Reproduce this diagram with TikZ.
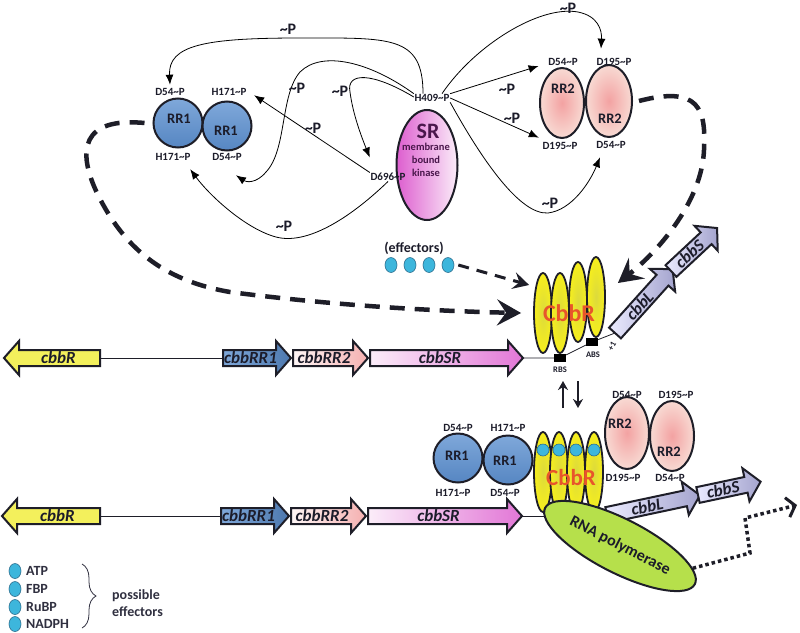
\documentclass[tikz,border=0pt]{standalone}
\usepackage{fontspec}
\setmainfont{Carlito}
\usetikzlibrary{arrows.meta,shapes.geometric,decorations.pathreplacing}
\definecolor{olc}{HTML}{1E1E28}
\definecolor{txt}{HTML}{1C1C2A}
\definecolor{legtxt}{HTML}{303040}
\definecolor{rrone}{HTML}{5686C2}
\definecolor{rronelt}{HTML}{7FA8DA}
\definecolor{rrtwo}{HTML}{F8DAD3}
\definecolor{rrtwoin}{HTML}{F3A2A2}
\definecolor{srdark}{HTML}{DD5ECF}
\definecolor{srlight}{HTML}{FBEDF9}
\definecolor{srtxt}{HTML}{4A174C}
\definecolor{cbbyel}{HTML}{F7EF1C}
\definecolor{cbbyelin}{HTML}{DCDA3C}
\definecolor{cbbred}{HTML}{E8552B}
\definecolor{effblue}{HTML}{3DB6DC}
\definecolor{effline}{HTML}{2C6E8E}
\definecolor{rnagreen}{HTML}{B6E04B}
\definecolor{geneyel}{HTML}{F3F05C}
\newcommand\Ptil{\textasciitilde P}
\newcommand\GeneArrow[6]{%
\begin{scope}[shift={(#2)},rotate=#3]
\pgfmathsetmacro\gbase{#4-15}
\pgfmathsetmacro\grot{mod(#3+90,180)-90}
\path[genebox,#5] (0,-8) -- (\gbase,-8) -- (\gbase,-17) -- (#4,0) -- (\gbase,17) -- (\gbase,8) -- (0,8) -- cycle;
\node[gname,rotate=\grot] (#1) at (\gbase/2+1,0) {#6};
\coordinate (#1-w) at (0,0);
\coordinate (#1-e) at (#4,0);
\end{scope}}
\begin{document}
\begin{tikzpicture}[x=1pt,y=-1pt,
 lab/.style={font=\bfseries\fontsize{11}{12}\selectfont, text=txt, inner sep=0.5pt},
 plab/.style={font=\bfseries\fontsize{16}{18}\selectfont, text=txt, inner sep=0.5pt},
 rrtxt/.style={font=\bfseries\fontsize{14.5}{16}\selectfont, text=txt, inner sep=0pt},
 gname/.style={font=\bfseries\itshape\fontsize{17}{18}\selectfont, text=txt, inner sep=0pt},
 leg/.style={font=\bfseries\fontsize{14}{17}\selectfont, text=legtxt, inner sep=0pt, anchor=west},
 small/.style={font=\bfseries\fontsize{8.5}{10}\selectfont, text=txt, inner sep=0pt},
 rronenode/.style={circle, draw=olc, line width=2pt, top color=rronelt, bottom color=rrone, minimum size=49pt, inner sep=0pt},
 rrtwonode/.style={ellipse, draw=olc, line width=2pt, inner color=rrtwoin, outer color=rrtwo, minimum width=44pt, minimum height=70pt, inner sep=0pt},
 cbbnode/.style={ellipse, draw=olc, line width=1.8pt, inner color=cbbyelin, outer color=cbbyel, minimum width=18pt, minimum height=80pt, inner sep=0pt},
 effnode/.style={ellipse, draw=effline, line width=0.6pt, fill=effblue, minimum width=12pt, minimum height=15pt, inner sep=0pt},
 dotnode/.style={circle, draw=effline, line width=0.6pt, fill=effblue, minimum size=12pt, inner sep=0pt},
 genebox/.style={draw=olc, line width=2pt, line join=miter},
 gR/.style={fill=geneyel},
 gRRa/.style={left color=rronelt, right color=rrone!90!black},
 gRRb/.style={left color=white!90!rrtwoin, right color=rrtwoin!85!white},
 gSR/.style={left color=srlight, right color=srdark!85!white},
 gLS/.style={left color=white!92!blue, right color=blue!30!gray!55!white},
 thinarr/.style={draw=black, line width=0.8pt, -{Latex[length=10pt,width=8pt]}},
 bigdash/.style={draw=olc, line width=4.5pt, dash pattern=on 15pt off 10pt, -{Stealth[length=24pt,width=26pt,inset=9pt]}},
 meddash/.style={draw=olc, line width=3pt, dash pattern=on 11pt off 8pt, -{Stealth[length=16pt,width=17pt,inset=6pt]}},
 updown/.style={draw=olc, line width=2.5pt, -{Stealth[length=9pt,width=10pt]}},
 dotarr/.style={draw=olc, line width=3.5pt, dash pattern=on 3.5pt off 3pt, -{Straight Barb[length=8pt,width=20pt,line width=3pt]}}
]
\useasboundingbox (0,0) rectangle (800,632);
\fill[white] (0,0) rectangle (800,632);

% ---------- top: RR1 pair ----------
\node[rronenode] (rr1a) at (178,123) {};
\node[rronenode] (rr1b) at (227,126) {};
\node[rrtxt] (rr1aT) at (179,119) {RR1};
\node[rrtxt] (rr1bT) at (226,131) {RR1};
\node[lab] (t1) at (170,92) {D54\Ptil};
\node[lab] (t2) at (229,92) {H171\Ptil};
\node[lab] (t3) at (173,157) {H171\Ptil};
\node[lab] (t4) at (227,157) {D54\Ptil};

% ---------- SR ----------
\node[ellipse, draw=olc, line width=2pt, left color=srdark, right color=srlight, minimum width=61pt, minimum height=110pt, inner sep=0pt] (sr) at (427,165) {};
\node[font=\bfseries\fontsize{22}{24}\selectfont, text=srtxt, inner sep=0pt] (srT) at (428,131) {SR};
\node[font=\bfseries\fontsize{10.5}{13}\selectfont, text=srtxt, align=center, inner sep=0pt] (srT2) at (426,160) {membrane\\bound\\kinase};
\node[lab] (h409) at (432,98) {H409\Ptil};
\node[lab] (d696) at (388,177) {D696\Ptil};

% ---------- RR2 pair ----------
\node[rrtwonode] (rr2a) at (562,103) {};
\node[rrtwonode, minimum width=46pt, minimum height=72pt] (rr2b) at (609,101) {};
\node[rrtxt] (rr2aT) at (563,89) {RR2};
\node[rrtxt] (rr2bT) at (610,119) {RR2};
\node[lab] (r1) at (563,62) {D54\Ptil};
\node[lab] (r2) at (614,62) {D195\Ptil};
\node[lab] (r3) at (560,146) {D195\Ptil};
\node[lab] (r4) at (611,145) {D54\Ptil};

% ---------- thin phosphotransfer arrows ----------
\draw[thinarr] ([xshift=-9pt]h409.north) .. controls (423,35) and (390,38) .. (300,38) .. controls (205,38) and (168,45) .. ([yshift=3pt]t1.north);
\draw[thinarr] (h409.north west) .. controls (370,62) and (322,50) .. (300,72) .. controls (280,95) and (287,150) .. (266,172) .. controls (256,184) and (246,182) .. ([xshift=9pt,yshift=-14pt]t4.south);
\draw[thinarr] ([yshift=1pt]h409.west) .. controls (372,72) and (346,72) .. (350,92) .. controls (353,115) and (362,138) .. ([yshift=15pt]d696.north west);
\draw[thinarr] (d696.north west) -- ([xshift=7pt,yshift=1pt]t2.south east);
\draw[thinarr] (d696.south) .. controls (348,220) and (306,245) .. (276,237) .. controls (246,229) and (210,196) .. ([xshift=-1pt,yshift=-8pt]t3.south east);
\draw[thinarr] ([xshift=10pt]h409.north) .. controls (475,45) and (540,5) .. (578,12) .. controls (598,16) and (602,30) .. ([xshift=-13pt,yshift=9pt]r2.north);
\draw[thinarr] (h409.north east) -- ([xshift=-9pt,yshift=-4pt]r1.west);
\draw[thinarr] (h409.east) -- ([xshift=-3pt,yshift=4pt]r3.north west);
\draw[thinarr] (h409.south east) .. controls (482,160) and (520,215) .. (548,213) .. controls (572,210) and (590,182) .. ([xshift=-11pt,yshift=-8pt]r4.south);
\node[plab] (p1) at (288,29) {\Ptil};
\node[plab] (p2) at (297,88) {\Ptil};
\node[plab] (p3) at (340,91) {\Ptil};
\node[plab] (p4) at (313,128) {\Ptil};
\node[plab] (p5) at (284,226) {\Ptil};
\node[plab] (p6) at (568,8) {\Ptil};
\node[plab] (p7) at (507,89) {\Ptil};
\node[plab] (p8) at (512,118) {\Ptil};
\node[plab] (p9) at (550,203) {\Ptil};

% ---------- top CbbR ----------
\node[cbbnode] (c1) at (543,313) {};
\node[cbbnode] (c2) at (560,313) {};
\node[cbbnode] (c3) at (578,302) {};
\node[cbbnode] (c4) at (596,297) {};
\node[font=\bfseries\fontsize{24}{26}\selectfont, text=cbbred, inner sep=0pt] (cT) at (569,313) {CbbR};

% ---------- effectors ----------
\node[font=\bfseries\fontsize{14}{16}\selectfont, text=txt, inner sep=0pt] (effT) at (414,248) {(effectors)};
\node[effnode] (e1) at (391,265) {};
\node[effnode] (e2) at (410,265) {};
\node[effnode] (e3) at (429,265) {};
\node[effnode] (e4) at (448,265) {};

% ---------- dashed feedback arrows ----------
\draw[bigdash] ([xshift=-8pt]rr1a.west) .. controls (82,117) and (76,150) .. (98,195) .. controls (123,245) and (160,280) .. (230,292) .. controls (330,305) and (430,311) .. ([xshift=-12pt]c1.west);
\draw[bigdash] ([xshift=6pt]rr2b.east) .. controls (700,85) and (706,110) .. (704,150) .. controls (702,200) and (660,250) .. ([xshift=12pt,yshift=14pt]c4.east);
\draw[meddash] ([xshift=4pt]e4.east) -- ([xshift=-4pt,yshift=28pt]c1.west);

% ---------- top gene bar ----------
\GeneArrow{gR1}{100,358}{180}{96}{gR}{cbbR}
\GeneArrow{gRRa1}{223,358}{0}{68}{gRRa}{cbbRR1}
\GeneArrow{gRRb1}{293,358}{0}{75}{gRRb}{cbbRR2}
\GeneArrow{gSR1}{370,358}{0}{153}{gSR}{cbbSR}
\GeneArrow{gL1}{615,333}{48}{86}{gLS}{cbbL}
\GeneArrow{gS1}{671,271}{43}{63}{gLS}{cbbS}
\draw[line width=0.8pt, draw=olc] (gR1-w) -- (gRRa1-w);
\node[fill=black, minimum width=12pt, minimum height=8pt, inner sep=0pt] (rbs) at (560,358) {};
\node[fill=black, minimum width=12pt, minimum height=8pt, inner sep=0pt] (abs) at (592,342) {};
\draw[line width=0.8pt, draw=olc] (gSR1-e) -- (rbs) -- (abs) -- (gL1-w);
\node[small] (rbsT) at (560,370) {RBS};
\node[small] (absT) at (593,355) {ABS};
\node[small, rotate=60] (plus1) at (612,346) {+1};

% ---------- up/down arrows ----------
\coordinate (ua1) at (563,408);
\coordinate (ua2) at (563,381);
\coordinate (da1) at (578,381);
\coordinate (da2) at (578,408);
\draw[updown] (ua1) -- (ua2);
\draw[updown] (da1) -- (da2);

% ---------- bottom complex ----------
\node[rronenode] (rr1c) at (458,458) {};
\node[rronenode] (rr1d) at (508,460) {};
\node[rrtxt] (rr1cT) at (457,456) {RR1};
\node[rrtxt] (rr1dT) at (505,461) {RR1};
\node[lab] (b1) at (458,428) {D54\Ptil};
\node[lab] (b2) at (508,428) {H171\Ptil};
\node[lab] (b3) at (453,493) {H171\Ptil};
\node[lab] (b4) at (505,493) {D54\Ptil};

\node[rrtwonode, minimum height=72pt] (rr2c) at (627,433) {};
\node[rrtwonode] (rr2d) at (672,436) {};
\node[rrtxt] (rr2cT) at (620,424) {RR2};
\node[rrtxt] (rr2dT) at (669,452) {RR2};
\node[lab] (b5) at (627,395) {D54\Ptil};
\node[lab] (b6) at (676,395) {D195\Ptil};
\node[lab] (b7) at (623,478) {D195\Ptil};
\node[lab] (b8) at (670,478) {D54\Ptil};

% ---------- bottom gene bar ----------
\GeneArrow{gR2}{100,516}{180}{98}{gR}{cbbR}
\GeneArrow{gRRa2}{221,516}{0}{68}{gRRa}{cbbRR1}
\GeneArrow{gRRb2}{291,516}{0}{75}{gRRb}{cbbRR2}
\GeneArrow{gSR2}{368,516}{0}{154}{gSR}{cbbSR}
\GeneArrow{gL2}{607,515}{12}{95}{gLS}{cbbL}
\GeneArrow{gS2}{698,495}{12}{64}{gLS}{cbbS}
\draw[line width=0.8pt, draw=olc] (gR2-w) -- (gRRa2-w);
\draw[line width=0.8pt, draw=olc] (gSR2-e) -- ++(30,0);

\node[cbbnode] (c5) at (543,472) {};
\node[cbbnode] (c6) at (559,472) {};
\node[cbbnode] (c7) at (576,472) {};
\node[cbbnode] (c8) at (594,472) {};
\node[dotnode] (d1) at (543,450) {};
\node[dotnode] (d2) at (559,450) {};
\node[dotnode] (d3) at (576,450) {};
\node[dotnode] (d4) at (594,450) {};
\node[font=\bfseries\fontsize{23}{25}\selectfont, text=cbbred, inner sep=0pt] (cT2) at (571,478) {CbbR};

\node[ellipse, draw=olc, line width=2pt, fill=rnagreen, minimum width=168pt, minimum height=54pt, inner sep=0pt, rotate=-27, font=\bfseries\fontsize{16}{18}\selectfont, text=txt] (rnap) at (620,546) {RNA polymerase};

\coordinate (dotend) at (797,505);
\draw[dotarr] (rnap.10) -- (750,553) -- (745,518) -- (dotend);

% ---------- legend ----------
\node[effnode] (l1) at (15,571) {};
\node[effnode] (l2) at (15,589) {};
\node[effnode] (l3) at (15,607) {};
\node[effnode] (l4) at (15,624) {};
\node[leg] (l1T) at (26,571) {ATP};
\node[leg] (l2T) at (26,589) {FBP};
\node[leg] (l3T) at (26,607) {RuBP};
\node[leg] (l4T) at (26,624) {NADPH};
\draw[line width=0.8pt, draw=legtxt, decorate, decoration={brace, amplitude=14pt, aspect=0.5}] (82,564) -- (82,628);
\node[leg, align=left] (possT) at (112,603) {possible\\effectors};
\end{tikzpicture}
\end{document}
